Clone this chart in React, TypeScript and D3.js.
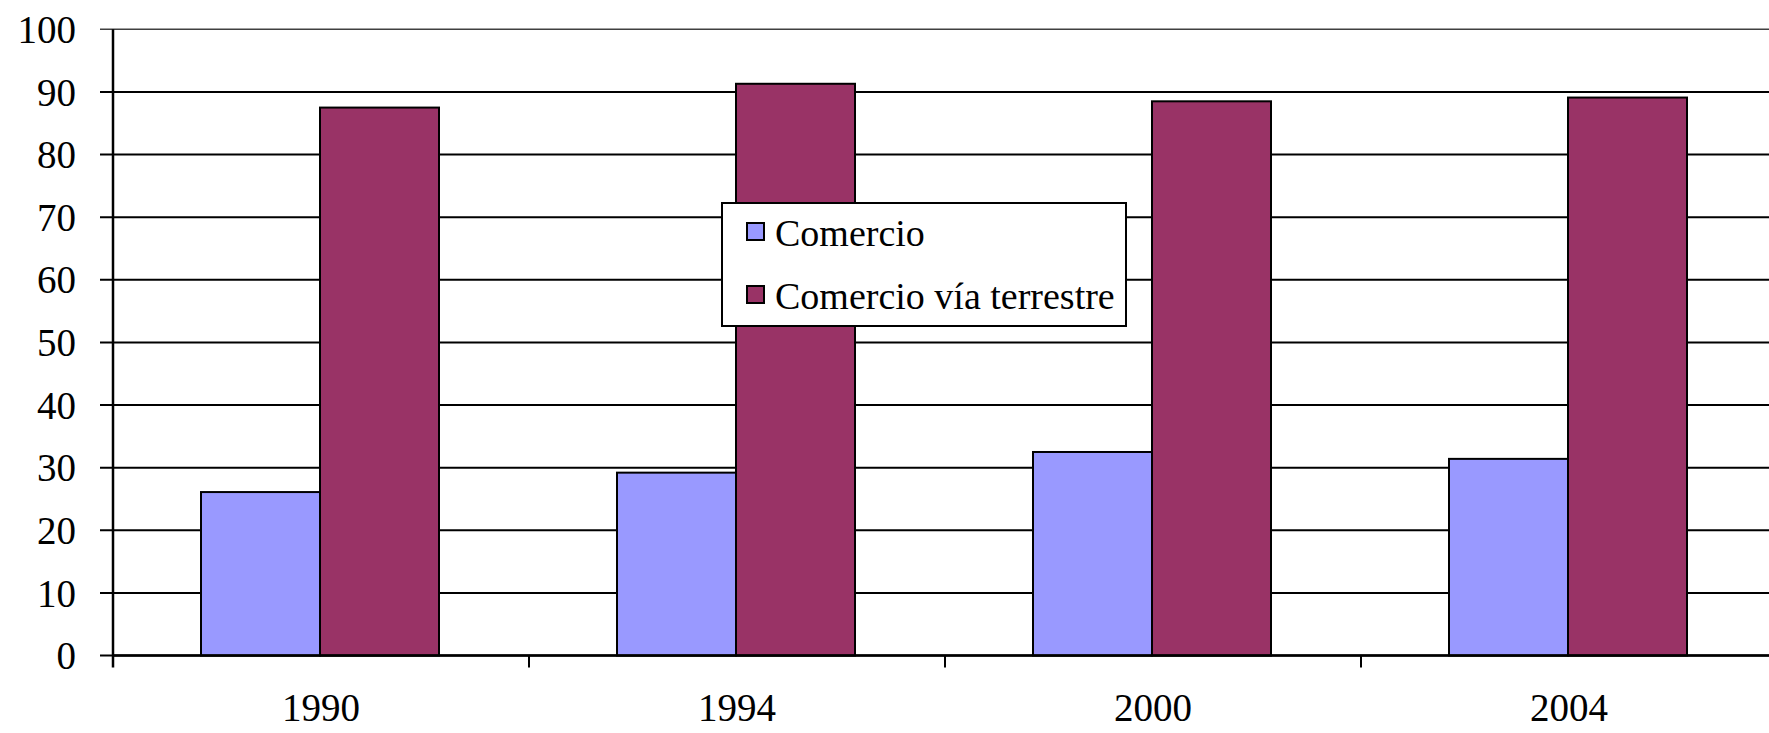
import * as d3 from "d3";

const years = ["1990", "1994", "2000", "2004"];
const comercio = [26.1, 29.2, 32.5, 31.4];
const terrestre = [87.5, 91.3, 88.5, 89.1];
const seriesNames = ["Comercio", "Comercio vía terrestre"];
const seriesColors = ["#9999FF", "#993366"];
const yTicks = [0, 10, 20, 30, 40, 50, 60, 70, 80, 90, 100];

const W = 1769;
const H = 733;
const left = 113;
const bandW = 416;
const font = "'Liberation Serif', 'Times New Roman', serif";

const App = () => {
  const y = d3.scaleLinear().domain([0, 100]).range([655.5, 29.3]);
  const x = d3
    .scaleBand()
    .domain(years)
    .range([left, left + bandW * years.length]);
  // two bars sit in the middle of each category band
  const x1 = d3.scaleBand().domain(seriesNames).range([88, 326]);
  const values = [comercio, terrestre];
  const right = left + bandW * years.length;

  return (
    <div style={{ position: "absolute", left: 0, top: 0 }}>
      <svg width={W} height={H} style={{ display: "block", background: "#fff" }}>
        {/* gridlines */}
        {yTicks.map((t) => (
          <line
            key={"g" + t}
            x1={left - 13}
            x2={right}
            y1={y(t)}
            y2={y(t)}
            stroke="#000"
            strokeWidth={t === 100 ? 1.6 : 2}
            strokeOpacity={t === 100 ? 0.75 : 1}
          />
        ))}
        {/* y labels */}
        {yTicks.map((t) => (
          <text
            key={"l" + t}
            x={76}
            y={y(t)}
            dy="0.35em"
            textAnchor="end"
            fontFamily={font}
            fontSize={39}
            fill="#000"
          >
            {t}
          </text>
        ))}
        {/* bars */}
        {years.map((yr, i) =>
          seriesNames.map((s, j) => (
            <rect
              key={yr + s}
              x={(x(yr) ?? 0) + (x1(s) ?? 0)}
              y={y(values[j][i])}
              width={x1.bandwidth()}
              height={y(0) - y(values[j][i])}
              fill={seriesColors[j]}
              stroke="#000"
              strokeWidth={2}
            />
          ))
        )}
        {/* axes */}
        <line x1={left} x2={left} y1={y(100)} y2={y(0) + 12} stroke="#000" strokeWidth={2.5} />
        <line x1={left} x2={right} y1={y(0)} y2={y(0)} stroke="#000" strokeWidth={2.5} />
        {years.map((yr) => (
          <line
            key={"t" + yr}
            x1={(x(yr) ?? 0) + bandW}
            x2={(x(yr) ?? 0) + bandW}
            y1={y(0)}
            y2={y(0) + 12}
            stroke="#000"
            strokeWidth={2}
          />
        ))}
        {years.map((yr) => (
          <text
            key={"x" + yr}
            x={(x(yr) ?? 0) + bandW / 2}
            y={721}
            textAnchor="middle"
            fontFamily={font}
            fontSize={39}
            fill="#000"
          >
            {yr}
          </text>
        ))}
        {/* legend */}
        <g>
          <rect x={722} y={203} width={404} height={123} fill="#fff" stroke="#000" strokeWidth={2} />
          {seriesNames.map((s, j) => (
            <g key={"lg" + s}>
              <rect
                x={747}
                y={223 + j * 63}
                width={17}
                height={17}
                fill={seriesColors[j]}
                stroke="#000"
                strokeWidth={2}
              />
              <text
                x={775}
                y={246 + j * 63}
                fontFamily={font}
                fontSize={38}
                fill="#000"
              >
                {s}
              </text>
            </g>
          ))}
        </g>
      </svg>
    </div>
  );
};

export default App;
